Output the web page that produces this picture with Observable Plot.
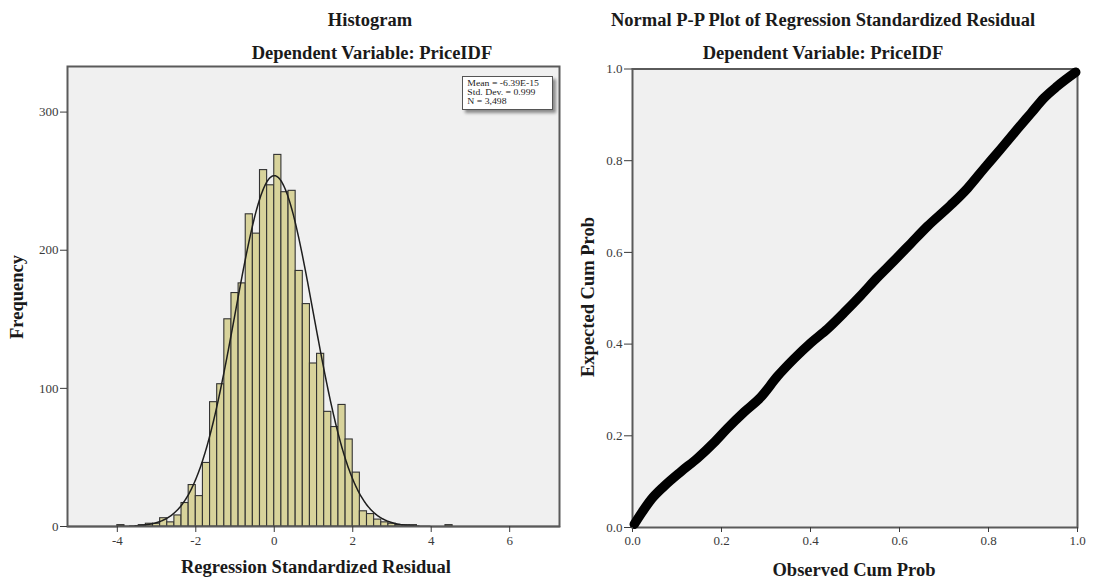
<!DOCTYPE html>
<html><head><meta charset="utf-8">
<script src="https://cdn.jsdelivr.net/npm/d3@7"></script>
<script src="https://cdn.jsdelivr.net/npm/@observablehq/plot@0.6"></script>
<style>
html,body{margin:0;padding:0;background:#fff;}
#wrap{position:relative;width:1094px;height:579px;overflow:hidden;font-family:"Liberation Serif","Times New Roman",serif;}
.t{position:absolute;font-weight:bold;font-size:18.5px;color:#1a1a1a;white-space:nowrap;transform:translate(-50%,-50%);}
.r{transform:translate(-50%,-50%) rotate(-90deg);}
.pl{position:absolute;top:60px;}
.legend{position:absolute;left:462px;top:76px;width:89px;height:32px;border:1px solid #555;background:#fff;
  box-shadow:3px 3px 3px #8a8a8a;color:#222;white-space:nowrap;}
.legend span{display:block;font-size:9px;line-height:9px;transform-origin:left top;transform:scaleX(1.08);padding:2px 0 0 4px;}
</style></head><body>
<div id="wrap">
  <div class="t" style="left:370px;top:20px">Histogram</div>
  <div class="t" style="left:372px;top:53px">Dependent Variable: PriceIDF</div>
  <div class="t" style="left:823px;top:20px">Normal P-P Plot of Regression Standardized Residual</div>
  <div class="t" style="left:823px;top:53px">Dependent Variable: PriceIDF</div>
  <div id="left" class="pl" style="left:0px"></div>
  <div id="right" class="pl" style="left:570px"></div>
  <div class="t" style="left:316px;top:567px">Regression Standardized Residual</div>
  <div class="t" style="left:854px;top:570px">Observed Cum Prob</div>
  <div class="t r" style="left:17px;top:297px">Frequency</div>
  <div class="t r" style="left:588px;top:297px">Expected Cum Prob</div>
  <div class="legend"><span>Mean = -6.39E-15<br>Std. Dev. = 0.999<br>N = 3,498</span></div>
</div>
<script>
// Histogram data: bin index k covers [k*binWidth, (k+1)*binWidth)
const binWidth = 2 / 11;
const binIndex = [-22,-21,-20,-19,-18,-17,-16,-15,-14,-13,-12,-11,-10,-9,-8,-7,-6,-5,-4,-3,-2,-1,
  0,1,2,3,4,5,6,7,8,9,10,11,12,13,14,15,16,17,18,19,20,21,22,23,24];
const binCounts = [1,0,0,1,2,2,6,3,8,17,30,22,46,90,103,150,169,176,226,212,258,247,
  269,242,243,185,161,118,125,83,72,88,63,39,11,9,5,3,2,1,1,1,0,0,0,0,1];
const histXTicks = [-4,-2,0,2,4,6];
const histYTicks = [0,100,200,300];
const resMean = -6.39e-15, resSD = 0.999, nObs = 3498;

// P-P plot data
const observedCum = [0.004,0.022,0.041,0.071,0.109,0.146,0.183,0.213,0.251,0.288,0.326,0.363,0.401,0.438,0.476,
  0.513,0.551,0.588,0.625,0.663,0.715,0.753,0.790,0.828,0.865,0.895,0.925,0.954,0.996];
const expectedCum = [0.007,0.034,0.060,0.090,0.122,0.151,0.185,0.216,0.252,0.284,0.330,0.368,0.403,0.433,0.469,
  0.506,0.546,0.582,0.619,0.657,0.703,0.740,0.783,0.826,0.869,0.903,0.937,0.962,0.993];
const ppTicks = [0,0.2,0.4,0.6,0.8,1.0];

const hist = binIndex.map((k,i)=>({x1:k*binWidth, x2:(k+1)*binWidth, n:binCounts[i]})).filter(d=>d.n>0);
const xDom = [-5.27, 7.27];
const curve = d3.range(xDom[0], xDom[1]+0.001, 0.02).map(x=>({x,
  y: nObs*binWidth*Math.exp(-0.5*((x-resMean)/resSD)**2)/(resSD*Math.sqrt(2*Math.PI))}));
const pp = observedCum.map((o,i)=>({o, e:expectedCum[i]}));

const baseStyle = {fontFamily:"'Liberation Serif','Times New Roman',serif", fontSize:"13px", color:"#3a3a3a", background:"transparent"};

const left = Plot.plot({
  width:570, height:519, marginLeft:67, marginRight:11, marginTop:6, marginBottom:53,
  x:{domain:xDom, label:null}, y:{domain:[0,333], label:null},
  style:baseStyle,
  marks:[
    Plot.frame({fill:"#f0f0f0"}),
    Plot.rectY(hist,{x1:"x1", x2:"x2", y:"n", fill:"#d8d39b", stroke:"#333", strokeWidth:1.1}),
    Plot.line(curve,{x:"x", y:"y", stroke:"#1e1e1e", strokeWidth:1.5}),
    Plot.frame({stroke:"#5a5a5a", strokeWidth:2}),
    Plot.axisX({ticks:histXTicks, tickSize:6, tickPadding:3, label:null, tickFormat:d=>String(d)}),
    Plot.axisY({ticks:histYTicks, tickSize:7, tickPadding:2, label:null})
  ]
});
document.getElementById("left").append(left);

const right = Plot.plot({
  width:524, height:519, marginLeft:62, marginRight:17, marginTop:8.5, marginBottom:52,
  x:{domain:[0,1], label:null}, y:{domain:[0,1], label:null},
  style:baseStyle,
  marks:[
    Plot.frame({fill:"#f0f0f0"}),
    Plot.frame({stroke:"#5a5a5a", strokeWidth:2}),
    Plot.line(pp,{x:"o", y:"e", stroke:"#000", strokeWidth:9.5, strokeLinecap:"round", strokeLinejoin:"round", curve:"monotone-x"}),
    Plot.axisX({ticks:ppTicks, tickFormat:d3.format(".1f"), tickSize:5, tickPadding:3, label:null}),
    Plot.axisY({ticks:ppTicks, tickFormat:d3.format(".1f"), tickSize:8, tickPadding:2, label:null})
  ]
});
document.getElementById("right").append(right);
</script>
</body></html>
